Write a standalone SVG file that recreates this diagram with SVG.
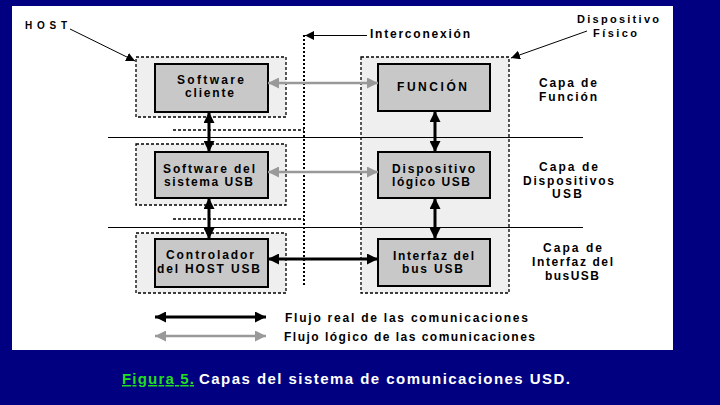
<svg xmlns="http://www.w3.org/2000/svg" width="720" height="405" viewBox="0 0 720 405">
<defs>
<style>
.t{font-family:"Liberation Sans",Arial,sans-serif;font-weight:bold;font-size:12px;fill:#000}
.grp{fill:#efefef;stroke:#000;stroke-width:1.3;stroke-dasharray:3 2}
.box{fill:#c8c8c8;stroke:#000;stroke-width:2}
.blk{stroke:#000;stroke-width:3;fill:none}
.gry{stroke:#999;stroke-width:2.5;fill:none}
.thin{stroke:#000;stroke-width:1;fill:none}
.sep{stroke:#000;stroke-width:1}
.dsh{stroke:#000;stroke-width:1.3;stroke-dasharray:3 2}
</style>
<marker id="ab" viewBox="0 0 10 10" refX="10" refY="5" markerWidth="11" markerHeight="11" markerUnits="userSpaceOnUse" orient="auto-start-reverse"><path d="M0,0 L10,5 L0,10 z" fill="#000"/></marker>
<marker id="ag" viewBox="0 0 10 10" refX="10" refY="5" markerWidth="11" markerHeight="11" markerUnits="userSpaceOnUse" orient="auto-start-reverse"><path d="M0,0 L10,5 L0,10 z" fill="#999"/></marker>
<marker id="as" viewBox="0 0 10 10" refX="10" refY="5" markerWidth="9" markerHeight="9" markerUnits="userSpaceOnUse" orient="auto"><path d="M0,0 L10,5 L0,10 z" fill="#000"/></marker>
</defs>
<rect x="0" y="0" width="720" height="405" fill="#000080"/>
<rect x="12" y="6" width="661" height="344" fill="#fff"/>

<g id="host-group">
<rect class="grp" x="136" y="57" width="150" height="60"/>
<rect class="grp" x="136" y="144" width="150" height="61"/>
<rect class="grp" x="136" y="233" width="150" height="60"/>
</g>
<g id="device-group">
<rect class="grp" x="361" y="57" width="148" height="236"/>
</g>

<g id="layers">
<line class="sep" x1="108" y1="137.5" x2="583" y2="137.5"/>
<line class="sep" x1="108" y1="227.5" x2="583" y2="227.5"/>
<line class="dsh" x1="173" y1="130" x2="304" y2="130"/>
<line class="dsh" x1="173" y1="219" x2="304" y2="219"/>
</g>

<g id="interconexion">
<line x1="304" y1="35" x2="304" y2="285" stroke="#000" stroke-width="2" stroke-dasharray="2 2"/>
<text class="t" x="370" y="38" textLength="100" lengthAdjust="spacing">Interconexión</text>
</g>

<g id="software-cliente">
<rect class="box" x="155" y="64" width="113" height="48"/>
<text class="t" x="177" y="84" textLength="67" lengthAdjust="spacing">Software</text>
<text class="t" x="185" y="97" textLength="49" lengthAdjust="spacing">cliente</text>
</g>
<g id="software-sistema">
<rect class="box" x="155" y="152" width="113" height="46"/>
<text class="t" x="163" y="173" textLength="92" lengthAdjust="spacing">Software del</text>
<text class="t" x="164" y="186" textLength="89" lengthAdjust="spacing">sistema USB</text>
</g>
<g id="controlador">
<rect class="box" x="155" y="239" width="113" height="48"/>
<text class="t" x="166" y="259" textLength="88" lengthAdjust="spacing">Controlador</text>
<text class="t" x="157" y="273" textLength="103" lengthAdjust="spacing">del HOST USB</text>
</g>
<g id="funcion">
<rect class="box" x="378" y="64" width="112" height="47"/>
<text class="t" x="397" y="91" textLength="70" lengthAdjust="spacing">FUNCIÓN</text>
</g>
<g id="dispositivo-logico">
<rect class="box" x="378" y="152" width="112" height="46"/>
<text class="t" x="392" y="173" textLength="83" lengthAdjust="spacing">Dispositivo</text>
<text class="t" x="392" y="186" textLength="78" lengthAdjust="spacing">lógico USB</text>
</g>
<g id="interfaz-bus">
<rect class="box" x="378" y="239" width="112" height="47"/>
<text class="t" x="393" y="260" textLength="81" lengthAdjust="spacing">Interfaz del</text>
<text class="t" x="402" y="273" textLength="61" lengthAdjust="spacing">bus USB</text>
</g>

<g id="labels">
<text class="t" x="25" y="29" style="font-size:10px" textLength="42" lengthAdjust="spacing">HOST</text>
<text class="t" x="577" y="23" style="font-size:11px" textLength="82" lengthAdjust="spacing">Dispositivo</text>
<text class="t" x="593" y="37" style="font-size:11px" textLength="44" lengthAdjust="spacing">Físico</text>
<text class="t" x="539" y="87" textLength="58" lengthAdjust="spacing">Capa de</text>
<text class="t" x="539" y="101" textLength="58" lengthAdjust="spacing">Función</text>
<text class="t" x="539" y="171" textLength="59" lengthAdjust="spacing">Capa de</text>
<text class="t" x="523" y="185" textLength="91" lengthAdjust="spacing">Dispositivos</text>
<text class="t" x="552" y="198" textLength="30" lengthAdjust="spacing">USB</text>
<text class="t" x="543" y="252" textLength="59" lengthAdjust="spacing">Capa de</text>
<text class="t" x="532" y="266" textLength="81" lengthAdjust="spacing">Interfaz del</text>
<text class="t" x="545" y="280" textLength="54" lengthAdjust="spacing">busUSB</text>
</g>

<g id="connectors">
<line class="thin" x1="70" y1="29" x2="135" y2="61" marker-end="url(#as)"/>
<line class="thin" x1="587" y1="31" x2="511" y2="58" marker-end="url(#as)"/>
<line class="thin" x1="367" y1="35.5" x2="305" y2="35.5" marker-end="url(#as)"/>
<line class="gry" x1="268" y1="83" x2="378" y2="83" marker-start="url(#ag)" marker-end="url(#ag)"/>
<line class="gry" x1="268" y1="172" x2="378" y2="172" marker-start="url(#ag)" marker-end="url(#ag)"/>
<line class="blk" x1="268" y1="259" x2="378" y2="259" marker-start="url(#ab)" marker-end="url(#ab)"/>
<line class="blk" x1="209" y1="112" x2="209" y2="152" marker-start="url(#ab)" marker-end="url(#ab)"/>
<line class="blk" x1="209" y1="198" x2="209" y2="239" marker-start="url(#ab)" marker-end="url(#ab)"/>
<line class="blk" x1="435" y1="111" x2="435" y2="152" marker-start="url(#ab)" marker-end="url(#ab)"/>
<line class="blk" x1="435" y1="198" x2="435" y2="239" marker-start="url(#ab)" marker-end="url(#ab)"/>
</g>

<g id="legend">
<line class="blk" x1="155" y1="317" x2="266" y2="317" marker-start="url(#ab)" marker-end="url(#ab)"/>
<line class="gry" x1="155" y1="336" x2="266" y2="336" marker-start="url(#ag)" marker-end="url(#ag)"/>
<text class="t" x="285" y="322" textLength="243" lengthAdjust="spacing">Flujo real de las comunicaciones</text>
<text class="t" x="284" y="341" textLength="251" lengthAdjust="spacing">Flujo lógico de las comunicaciones</text>
</g>

<g id="caption">
<text x="122" y="384" font-family="'Liberation Sans',Arial,sans-serif" font-weight="bold" font-size="15" fill="#22dd22" text-decoration="underline" textLength="72" lengthAdjust="spacing">Figura 5.</text>
<text x="199" y="384" font-family="'Liberation Sans',Arial,sans-serif" font-weight="bold" font-size="15" fill="#fff" textLength="371" lengthAdjust="spacing">Capas del sistema de comunicaciones USD.</text>
</g>
</svg>
